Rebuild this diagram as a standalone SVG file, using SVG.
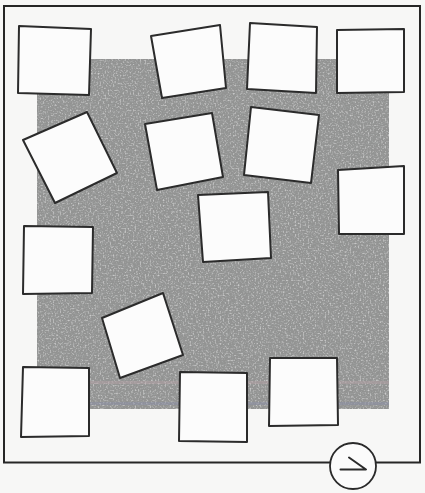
<svg xmlns="http://www.w3.org/2000/svg" width="425" height="493" viewBox="0 0 425 493">
  <defs>
    <filter id="grain" x="0" y="0" width="100%" height="100%">
      <feTurbulence type="fractalNoise" baseFrequency="0.5 0.9" numOctaves="2" seed="3" result="n"/>
      <feColorMatrix in="n" type="matrix" values="0 0 0 0 0.35  0 0 0 0 0.36  0 0 0 0 0.36  0 0 0 2.2 -0.95" result="c"/>
      <feComposite in="c" in2="SourceGraphic" operator="in" result="t"/>
      <feTurbulence type="fractalNoise" baseFrequency="0.6 0.6" numOctaves="1" seed="9" result="n2"/>
      <feColorMatrix in="n2" type="matrix" values="0 0 0 0 0.8  0 0 0 0 0.8  0 0 0 0 0.8  0 0 0 2.0 -1.05" result="c2"/>
      <feComposite in="c2" in2="SourceGraphic" operator="in" result="t2"/>
      <feMerge><feMergeNode in="SourceGraphic"/><feMergeNode in="t"/><feMergeNode in="t2"/></feMerge>
    </filter>
  </defs>
  <style>
    .frame { fill: none; stroke: #262626; stroke-width: 2; }
    .sq { fill: #fcfcfc; stroke: #2b2b2b; stroke-width: 2; stroke-linejoin: round; }
    .mark { fill: #fbfbfb; stroke: #2a2a2a; stroke-width: 1.8; }
    .sym { fill: none; stroke: #2a2a2a; stroke-width: 2; stroke-linecap: round; stroke-linejoin: round; }
  </style>
  <rect x="0" y="0" width="425" height="493" fill="#f7f7f6"/>
  <rect class="frame" x="4" y="6" width="416" height="456.5"/>
  <g id="field">
    <rect x="37" y="59" width="352" height="350" fill="#929392" filter="url(#grain)"/>
    <rect x="37" y="381" width="352" height="3" fill="#b6a2a6" opacity="0.45"/>
    <rect x="37" y="402" width="352" height="3" fill="#8a8fa6" opacity="0.45"/>
  </g>
  <g id="sq-a"><polygon class="sq" points="19,26 91,29 89,95 18,93"/></g>
  <g id="sq-b"><polygon class="sq" points="151,36 220,25 226,88 162,98"/></g>
  <g id="sq-c"><polygon class="sq" points="250,23 317,27 316,93 247,89"/></g>
  <g id="sq-d"><polygon class="sq" points="337,30 404,29 404,92 337,93"/></g>
  <g id="sq-e"><polygon class="sq" points="23,140 87,112 117,173 55,203"/></g>
  <g id="sq-f"><polygon class="sq" points="145,124 212,113 223,177 157,190"/></g>
  <g id="sq-g"><polygon class="sq" points="251,107 319,115 311,183 244,175"/></g>
  <g id="sq-h"><polygon class="sq" points="338,170 404,166 404,234 339,234"/></g>
  <g id="sq-i"><polygon class="sq" points="198,195 268,192 271,258 203,262"/></g>
  <g id="sq-j"><polygon class="sq" points="24,226 93,227 92,293 23,294"/></g>
  <g id="sq-k"><polygon class="sq" points="102,318 163,293 183,355 120,378"/></g>
  <g id="sq-l"><polygon class="sq" points="23,367 89,368 89,436 21,437"/></g>
  <g id="sq-m"><polygon class="sq" points="180,372 247,373 247,442 179,441"/></g>
  <g id="sq-n"><polygon class="sq" points="270,358 337,358 338,425 269,426"/></g>
  <g id="page-mark">
    <circle class="mark" cx="353" cy="466" r="23"/>
    <path class="sym" d="M349,457.5 L366,469.5 L340.5,469.5"/>
  </g>
</svg>
